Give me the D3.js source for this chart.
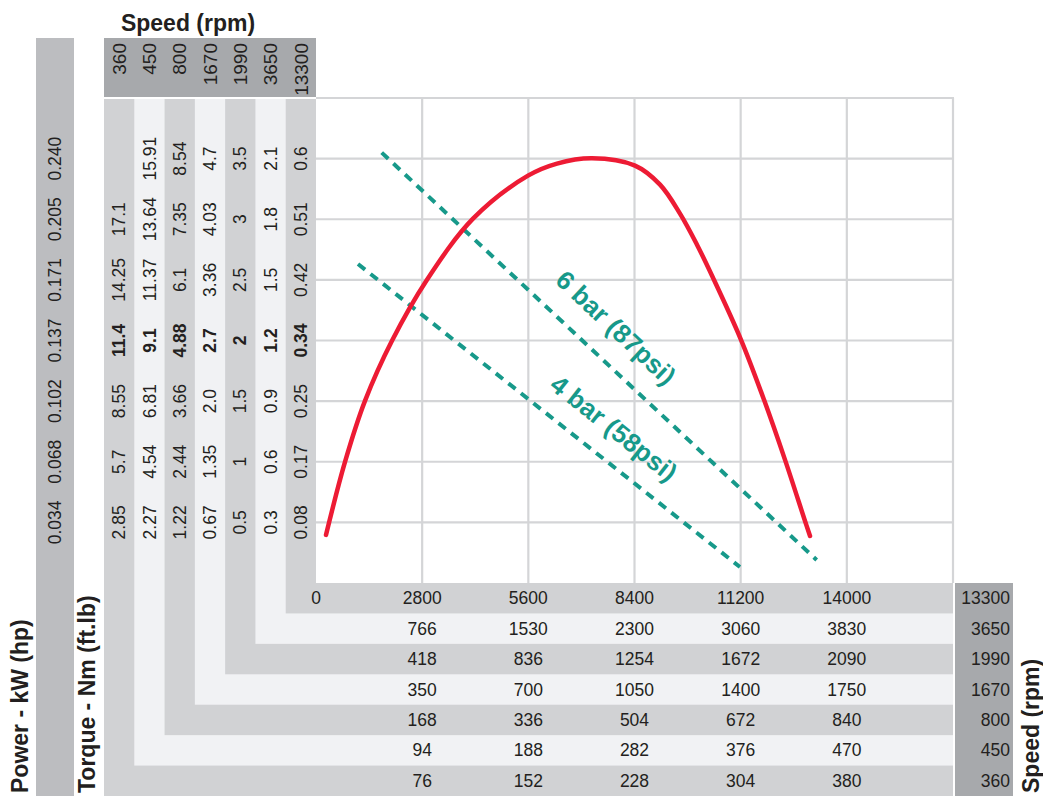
<!DOCTYPE html>
<html>
<head>
<meta charset="utf-8">
<script src="https://cdn.jsdelivr.net/npm/d3@7"></script>
<style>
  html, body { margin: 0; padding: 0; background: #ffffff; }
  svg { display: block; font-family: "Liberation Sans", Arial, Helvetica, sans-serif; }
</style>
</head>
<body>
<svg id="chart" width="1043" height="796"></svg>
<script>
// ---------------- DATA ----------------
const speeds = ["360", "450", "800", "1670", "1990", "3650", "13300"];

// Torque columns (top row = 0.6 line, bottom row = 0.08 line)
const torque360   = ["", "17.1", "14.25", "11.4", "8.55", "5.7", "2.85"];
const torque450   = ["15.91", "13.64", "11.37", "9.1", "6.81", "4.54", "2.27"];
const torque800   = ["8.54", "7.35", "6.1", "4.88", "3.66", "2.44", "1.22"];
const torque1670  = ["4.7", "4.03", "3.36", "2.7", "2.0", "1.35", "0.67"];
const torque1990  = ["3.5", "3", "2.5", "2", "1.5", "1", "0.5"];
const torque3650  = ["2.1", "1.8", "1.5", "1.2", "0.9", "0.6", "0.3"];
const torque13300 = ["0.6", "0.51", "0.42", "0.34", "0.25", "0.17", "0.08"];
const torqueColumns = [torque360, torque450, torque800, torque1670, torque1990, torque3650, torque13300];
const boldRowIndex = 3;

const powerLabels = ["0.240", "0.205", "0.171", "0.137", "0.102", "0.068", "0.034"];

// Bottom speed table (columns at x-ticks 0, 2800 ... 14000)
const xTicks = [0, 2800, 5600, 8400, 11200, 14000];
const row13300 = ["0", "2800", "5600", "8400", "11200", "14000"];
const row3650  = ["", "766", "1530", "2300", "3060", "3830"];
const row1990  = ["", "418", "836", "1254", "1672", "2090"];
const row1670  = ["", "350", "700", "1050", "1400", "1750"];
const row800   = ["", "168", "336", "504", "672", "840"];
const row450   = ["", "94", "188", "282", "376", "470"];
const row360   = ["", "76", "152", "228", "304", "380"];
const tableRows = [row13300, row3650, row1990, row1670, row800, row450, row360];
const rowSpeeds = ["13300", "3650", "1990", "1670", "800", "450", "360"];

// Air motor power curve (speed rpm, power on 13300 column scale)
const curveSpeed = [264, 765, 1292, 2004, 2928, 4141, 5591, 6356, 7279, 8413, 9073, 9600, 10048, 10470, 11209, 11816, 12370, 12897, 13029];
const curvePower = [0.068, 0.1712, 0.2575, 0.3425, 0.4288, 0.5151, 0.5759, 0.593, 0.6005, 0.5901, 0.5632, 0.5222, 0.4783, 0.4316, 0.3439, 0.259, 0.1741, 0.0877, 0.0665];

// Air consumption lines
const bar6Speed = [1733, 13204];
const bar6Power = [0.6085, 0.0325];
const bar4Speed = [1108, 11181];
const bar4Power = [0.451, 0.0226];
const bar6Label = "6 bar (87psi)";
const bar4Label = "4 bar (58psi)";
const bar6LabelAt = [7912, 0.361];
const bar4LabelAt = [7859, 0.219];

// ---------------- STYLE ----------------
const C = {
  text: "#231f20", dark: "#d1d2d4", light: "#f1f2f4", power: "#bcbdc0",
  header: "#a7a9ac", grid: "#d4d5d7", red: "#ed1b34", teal: "#17998a"
};
const FS = 17.5;

const svg = d3.select("#chart");

const yStep = 0.6 / 7;
const x = d3.scaleLinear().domain([0, 16800]).range([316, 953]);
const y = d3.scaleLinear().domain([0, yStep * 8]).range([583, 98]);
const yTicks = d3.range(7, 0, -1).map(i => i * yStep); // 0.6 ... 0.0857
const col = d3.scaleBand().domain(speeds).range([104, 316]);
const row = d3.scaleBand().domain(rowSpeeds).range([583, 796]);

// Power column background
svg.append("rect").attr("x", 36).attr("y", 38).attr("width", 38).attr("height", 796 - 38).attr("fill", C.power);

// L-shaped bands
speeds.forEach((s, k) => {
  svg.append("rect")
    .attr("x", col(s)).attr("y", 99)
    .attr("width", 953 - col(s))
    .attr("height", row(s) + row.bandwidth() - 99)
    .attr("fill", k % 2 === 0 ? C.dark : C.light);
});

// Header box
svg.append("rect").attr("x", 104).attr("y", 38).attr("width", 212).attr("height", 59).attr("fill", C.header);
// Right speed column
svg.append("rect").attr("x", 955).attr("y", 583).attr("width", 58).attr("height", 796 - 583).attr("fill", C.header);

// Plot area
svg.append("rect").attr("x", x(0)).attr("y", y.range()[1]).attr("width", x(16800) - x(0)).attr("height", y(0) - y.range()[1]).attr("fill", "#fff");

// Grid
const grid = svg.append("g").attr("stroke", C.grid).attr("stroke-width", 2.2);
xTicks.slice(1).concat([16800]).forEach(v => {
  grid.append("line").attr("x1", x(v)).attr("x2", x(v)).attr("y1", y.range()[1]).attr("y2", y(0));
});
yTicks.concat([yStep * 8]).forEach(v => {
  grid.append("line").attr("x1", x(0)).attr("x2", x(16800) + 1).attr("y1", y(v)).attr("y2", y(v));
});

// Titles
svg.append("text").attr("x", 188).attr("y", 31).attr("text-anchor", "middle")
  .attr("font-size", 23).attr("font-weight", "bold").attr("fill", C.text).text("Speed (rpm)");
svg.append("text").attr("transform", "translate(28,793) rotate(-90)")
  .attr("font-size", 23).attr("font-weight", "bold").attr("fill", C.text).text("Power - kW (hp)");
svg.append("text").attr("transform", "translate(95,793) rotate(-90)")
  .attr("font-size", 23).attr("font-weight", "bold").attr("fill", C.text).text("Torque - Nm (ft.lb)");
svg.append("text").attr("transform", "translate(1039,793) rotate(-90)")
  .attr("font-size", 23).attr("font-weight", "bold").attr("fill", C.text).text("Speed (rpm)");

// Header speed labels
speeds.forEach(s => {
  svg.append("text")
    .attr("transform", `translate(${col(s) + col.bandwidth() / 2},43) rotate(-90)`)
    .attr("text-anchor", "end").attr("dy", "0.35em")
    .attr("font-size", 19).attr("fill", C.text).text(s);
});

// Power labels
powerLabels.forEach((t, i) => {
  svg.append("text")
    .attr("transform", `translate(55,${y(yTicks[i])}) rotate(-90)`)
    .attr("text-anchor", "middle").attr("dy", "0.35em")
    .attr("font-size", FS).attr("fill", C.text).text(t);
});

// Torque labels
speeds.forEach((s, k) => {
  torqueColumns[k].forEach((t, i) => {
    if (!t) return;
    svg.append("text")
      .attr("transform", `translate(${col(s) + col.bandwidth() / 2},${y(yTicks[i])}) rotate(-90)`)
      .attr("text-anchor", "middle").attr("dy", "0.35em")
      .attr("font-size", FS).attr("font-weight", i === boldRowIndex ? "bold" : "normal")
      .attr("fill", C.text).text(t);
  });
});

// Bottom table
rowSpeeds.forEach((r, k) => {
  const cy = row(r) + row.bandwidth() / 2;
  tableRows[k].forEach((t, i) => {
    if (!t) return;
    svg.append("text").attr("x", x(xTicks[i])).attr("y", cy).attr("dy", "0.35em")
      .attr("text-anchor", "middle").attr("font-size", FS).attr("fill", C.text).text(t);
  });
  svg.append("text").attr("x", 1010).attr("y", cy).attr("dy", "0.35em")
    .attr("text-anchor", "end").attr("font-size", FS).attr("fill", C.text).text(r);
});

// Dashed air lines
function dashed(sp, pw) {
  svg.append("line")
    .attr("x1", x(sp[0])).attr("y1", y(pw[0])).attr("x2", x(sp[1])).attr("y2", y(pw[1]))
    .attr("stroke", C.teal).attr("stroke-width", 4).attr("stroke-dasharray", "9,7");
}
dashed(bar6Speed, bar6Power);
dashed(bar4Speed, bar4Power);

function angleOf(sp, pw) {
  return Math.atan2(y(pw[1]) - y(pw[0]), x(sp[1]) - x(sp[0])) * 180 / Math.PI;
}
[[bar6Label, bar6LabelAt, angleOf(bar6Speed, bar6Power)], [bar4Label, bar4LabelAt, angleOf(bar4Speed, bar4Power)]]
  .forEach(([t, at, a]) => {
    svg.append("text")
      .attr("transform", `translate(${x(at[0])},${y(at[1])}) rotate(${a})`)
      .attr("text-anchor", "middle").attr("dy", "0.35em")
      .attr("font-size", 26).attr("font-weight", "bold").attr("fill", C.teal).text(t);
  });

// Power curve
const pts = curveSpeed.map((s, i) => [s, curvePower[i]]);
svg.append("path")
  .attr("d", d3.line().x(d => x(d[0])).y(d => y(d[1])).curve(d3.curveCatmullRom.alpha(0.5))(pts))
  .attr("fill", "none").attr("stroke", C.red).attr("stroke-width", 4.5).attr("stroke-linecap", "round");
</script>
</body>
</html>
